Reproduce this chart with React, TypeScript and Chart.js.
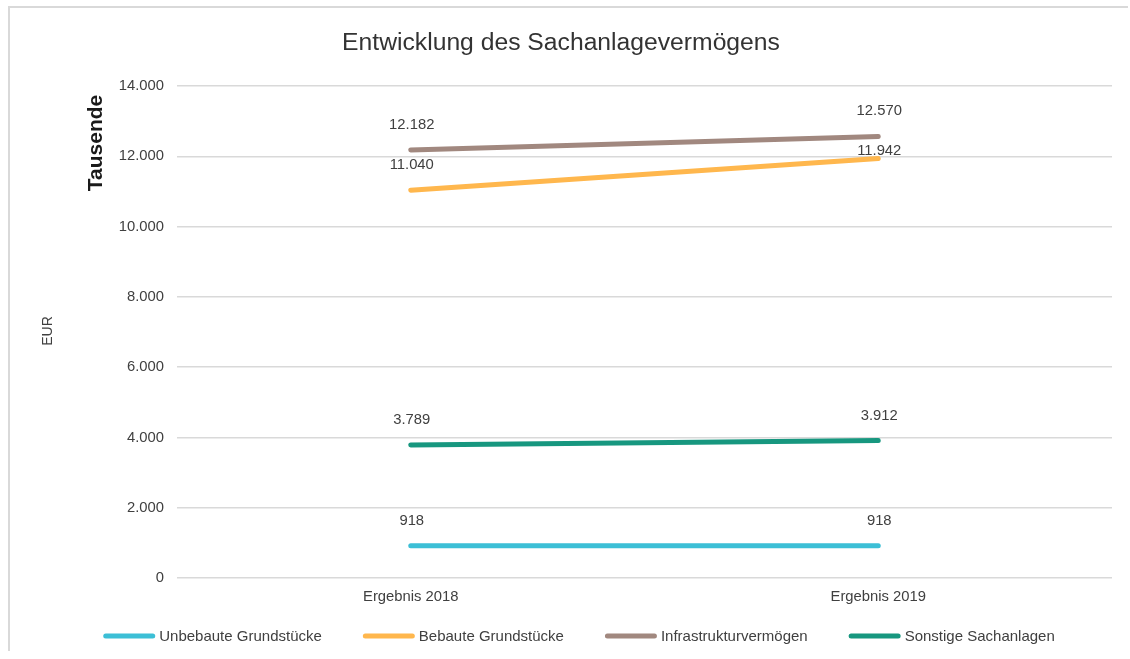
import React, { useEffect, useRef } from "react";
import { Chart, registerables } from "chart.js";

Chart.register(...registerables);

const CATEGORIES = ["Ergebnis 2018", "Ergebnis 2019"];
const SERIES_NAMES = [
  "Unbebaute Grundstücke",
  "Bebaute Grundstücke",
  "Infrastrukturvermögen",
  "Sonstige Sachanlagen",
];
const UNBEBAUTE = [918, 918];
const BEBAUTE = [11040, 11942];
const INFRASTRUKTUR = [12182, 12570];
const SONSTIGE = [3789, 3912];
const Y_TICKS = [0, 2000, 4000, 6000, 8000, 10000, 12000, 14000];

const TITLE = "Entwicklung des Sachanlagevermögens";
const UNIT_LABEL = "Tausende";
const AXIS_LABEL = "EUR";

const COLORS = ["#3CBFD6", "#FFB74D", "#A1887F", "#17977F"];
const FONT = "'Liberation Sans', Arial, sans-serif";
const TEXT = "#404040";

const fmt = (v: number) =>
  String(Math.round(v)).replace(/\B(?=(\d{3})+(?!\d))/g, ".");

const extrasPlugin = {
  id: "extras",
  afterDatasetsDraw(chart: any) {
    const ctx = chart.ctx;
    ctx.save();
    ctx.font = `14.8px ${FONT}`;
    ctx.fillStyle = TEXT;
    ctx.textAlign = "center";
    ctx.textBaseline = "middle";
    chart.data.datasets.forEach((ds: any, di: number) => {
      const meta = chart.getDatasetMeta(di);
      meta.data.forEach((pt: any, i: number) => {
        const lift = ds.labelLift ? ds.labelLift[i] : 25;
        ctx.fillText(fmt(ds.data[i]), pt.x + 1, pt.y - lift);
      });
    });
    ctx.restore();
  },
  afterDraw(chart: any) {
    const ctx = chart.ctx;
    ctx.save();
    ctx.fillStyle = "#1a1a1a";
    ctx.font = `bold 21px ${FONT}`;
    ctx.textAlign = "center";
    ctx.textBaseline = "middle";
    ctx.translate(86, 135);
    ctx.rotate(-Math.PI / 2);
    ctx.fillText(UNIT_LABEL, 0, 0);
    ctx.restore();

    ctx.save();
    ctx.fillStyle = TEXT;
    ctx.font = `14px ${FONT}`;
    ctx.textAlign = "center";
    ctx.textBaseline = "middle";
    ctx.translate(38, 323);
    ctx.rotate(-Math.PI / 2);
    ctx.fillText(AXIS_LABEL, 0, 0);
    ctx.restore();

    // legend
    ctx.save();
    ctx.font = `15px ${FONT}`;
    ctx.textBaseline = "middle";
    ctx.textAlign = "left";
    const boxW = 52;
    const gapText = 4;
    const gapItem = 41;
    const items = chart.data.datasets.map((ds: any) => ({
      label: ds.label,
      color: ds.borderColor,
      w: ctx.measureText(ds.label).width,
    }));
    let total = 0;
    items.forEach((it: any, i: number) => {
      total += boxW + gapText + it.w + (i < items.length - 1 ? gapItem : 0);
    });
    let x = 569 - total / 2;
    const y = 628;
    items.forEach((it: any) => {
      ctx.strokeStyle = it.color;
      ctx.lineWidth = 5;
      ctx.lineCap = "round";
      ctx.beginPath();
      ctx.moveTo(x + 2.5, y);
      ctx.lineTo(x + boxW - 2.5, y);
      ctx.stroke();
      ctx.fillStyle = TEXT;
      ctx.fillText(it.label, x + boxW + gapText, y + 0.5);
      x += boxW + gapText + it.w + gapItem;
    });
    ctx.restore();
  },
};

export default function App() {
  const ref = useRef<HTMLCanvasElement | null>(null);

  useEffect(() => {
    if (!ref.current) return;
    const seriesData = [UNBEBAUTE, BEBAUTE, INFRASTRUKTUR, SONSTIGE];
    const chart = new Chart(ref.current, {
      type: "line",
      data: {
        labels: CATEGORIES,
        datasets: seriesData.map((d, i) => ({
          label: SERIES_NAMES[i],
          data: d,
          borderColor: COLORS[i],
          backgroundColor: COLORS[i],
          borderWidth: 5,
          borderCapStyle: "round",
          pointRadius: 0,
          pointHoverRadius: 0,
          tension: 0,
          fill: false,
          labelLift: i === 1 ? [25, 8] : [25, 25],
        })) as any,
      },
      options: {
        responsive: false,
        animation: false,
        devicePixelRatio: 1,
        layout: { padding: { left: 0, right: 16, top: 0, bottom: 45 } },
        plugins: {
          legend: { display: false },
          tooltip: { enabled: false },
          title: {
            display: true,
            text: TITLE,
            color: "#333333",
            font: { family: FONT, size: 24.7, weight: "normal" },
            padding: { top: 20.5, bottom: 28 },
          },
        },
        scales: {
          x: {
            offset: true,
            grid: { display: false, drawTicks: false },
            border: { display: false },
            ticks: {
              color: TEXT,
              font: { family: FONT, size: 14.8 },
              padding: 10,
              maxRotation: 0,
            },
            afterFit: (s: any) => {
              s.height = 28;
            },
          },
          y: {
            min: Y_TICKS[0],
            max: Y_TICKS[Y_TICKS.length - 1],
            afterBuildTicks: (s: any) => {
              s.ticks = Y_TICKS.map((v) => ({ value: v }));
            },
            grid: { color: "#d9d9d9", lineWidth: 1.5, drawTicks: false },
            border: { display: false },
            ticks: {
              color: TEXT,
              font: { family: FONT, size: 14.8 },
              padding: 13,
              callback: (v: any) => fmt(Number(v)),
            },
            afterFit: (s: any) => {
              s.width = 167;
            },
          },
        },
      },
      plugins: [extrasPlugin],
    });
    return () => chart.destroy();
  }, []);

  return (
    <div
      style={{
        position: "absolute",
        left: 8,
        top: 6,
        width: 1118,
        height: 643,
        borderTop: "2px solid #d9d9d9",
        borderLeft: "2px solid #d9d9d9",
        background: "#ffffff",
      }}
    >
      <canvas
        ref={ref}
        width={1118}
        height={643}
        style={{ display: "block", width: 1118, height: 643 }}
      />
    </div>
  );
}
